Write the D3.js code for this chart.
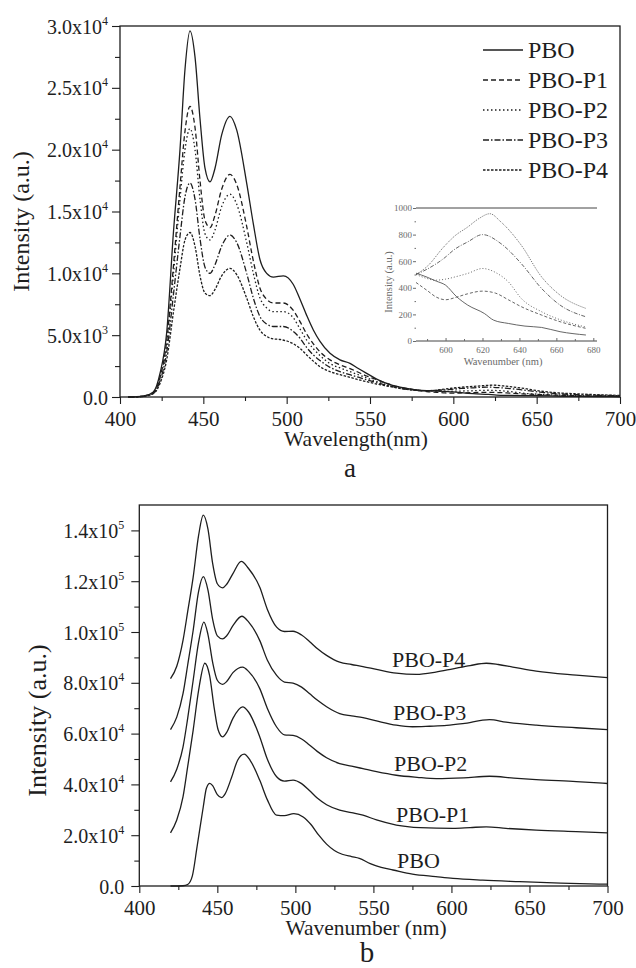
<!DOCTYPE html>
<html>
<head>
<meta charset="utf-8">
<script src="https://cdn.jsdelivr.net/npm/d3@7"></script>
<style>
  body { margin: 0; background: #fff; }
  svg { display: block; }
  svg text { font-family: "Liberation Serif", "Tinos", "Times New Roman", Times, "Noto Serif", "DejaVu Serif", serif; }
</style>
</head>
<body>
<script>
// ---- data ----
// panel a: emission spectra [wavelength nm, intensity]
const aPBO = [[405,0],[410,20],[415,100],[420,400],[424,1900],[428,5200],[432,13200],[436,20000],[439,26500],[442,29600],[445,27500],[448,22500],[451,18500],[454,17400],[457,18500],[461,21200],[466,22700],[470,21600],[476,17300],[480,14000],[484,11100],[488,10000],[492,9700],[498,9800],[504,9100],[508,7900],[512,6600],[516,5420],[520,4500],[526,3530],[532,3000],[538,2720],[543,2300],[548,1910],[554,1450],[560,1100],[566,850],[572,700],[578,580],[584,510],[590,480],[595,450],[600,420],[606,333],[612,270],[621,207],[626,157],[634,132],[643,112],[652,102],[662,70],[676,45],[690,30],[700,20]];
const aP1 = [[405,0],[410,20],[415,100],[420,350],[424,1600],[428,4500],[432,10500],[436,17000],[439,21500],[442,23500],[445,21800],[448,17500],[451,14300],[454,13700],[457,14700],[461,16800],[466,18000],[470,17200],[476,13800],[480,11000],[484,8800],[488,7900],[492,7600],[498,7600],[504,7000],[508,6100],[512,5100],[516,4300],[520,3650],[526,3000],[532,2600],[538,2300],[543,2000],[548,1700],[554,1400],[560,1100],[566,850],[572,700],[578,550],[584,440],[590,380],[595,330],[600,310],[606,330],[612,355],[620,375],[627,360],[634,310],[641,258],[652,195],[662,145],[676,95],[690,70],[700,50]];
const aP2 = [[405,0],[410,20],[415,90],[420,330],[424,1500],[428,4200],[432,9800],[436,16000],[439,20000],[442,21700],[445,20000],[448,16000],[451,13200],[454,12700],[457,13500],[461,15400],[466,16400],[470,15600],[476,12500],[480,10000],[484,8000],[488,7200],[492,6900],[498,6900],[504,6400],[508,5500],[512,4600],[516,3900],[520,3350],[526,2700],[532,2350],[538,2050],[543,1800],[548,1550],[554,1250],[560,1000],[566,800],[572,650],[578,560],[584,500],[590,470],[594,457],[600,465],[606,485],[612,508],[620,545],[628,508],[634,445],[641,320],[652,220],[662,160],[676,105],[690,75],[700,55]];
const aP3 = [[405,0],[410,15],[415,80],[420,300],[424,1300],[428,3600],[432,8200],[436,13000],[439,16200],[442,17300],[445,16000],[448,12800],[451,10500],[454,10000],[457,10700],[461,12200],[466,13100],[470,12500],[476,10000],[480,8000],[484,6500],[488,5900],[492,5700],[498,5700],[504,5300],[508,4750],[512,4000],[516,3400],[520,2950],[526,2400],[532,2050],[538,1800],[543,1600],[548,1400],[554,1150],[560,950],[566,760],[572,620],[578,540],[584,500],[590,540],[599,620],[605,690],[612,745],[620,800],[630,732],[641,582],[652,395],[662,270],[676,182],[690,130],[700,100]];
const aP4 = [[405,0],[410,15],[415,70],[420,260],[424,1100],[428,3000],[432,6800],[436,10400],[439,12700],[442,13300],[445,12200],[448,9800],[451,8400],[454,8200],[457,8700],[461,9800],[466,10400],[470,9900],[476,8000],[480,6500],[484,5400],[488,4900],[492,4700],[496,4650],[504,4300],[508,3940],[512,3400],[516,2900],[520,2450],[526,2050],[532,1800],[538,1590],[543,1400],[548,1240],[554,1050],[560,890],[566,740],[572,620],[578,540],[584,500],[590,560],[599,707],[605,790],[612,857],[618,920],[624,957],[630,895],[641,720],[652,482],[662,345],[676,245],[690,170],[700,130]];

// panel b: offset spectra
const bPBO = [[420,0],[428,100],[431,600],[434,4000],[437,15400],[441,31200],[443,38500],[445.2,40400],[447,39500],[450,36000],[452.7,34800],[455,36300],[459,42500],[463,49500],[467.2,51900],[471,49500],[477.2,41600],[482,34000],[487.9,27900],[493,27700],[499,28500],[505,27200],[510,24200],[515,20000],[520,16500],[525,14000],[530,12500],[536,11600],[541,10900],[548,8800],[555,7300],[562.6,6300],[575,4700],[590,3700],[601,3000],[620,2300],[643.6,1700],[670,1100],[700,700]];
const bP1 = [[420,20950],[424,26000],[428,35100],[431,47000],[434.5,61300],[438,77000],[442,87700],[445,83000],[448,70000],[450.5,61500],[453.4,58700],[456,60500],[460,66000],[466.2,70500],[470,68500],[477.2,58700],[482,50000],[488,43000],[493,41300],[498.5,41700],[504,40300],[509,37600],[514,34600],[520,32000],[528.4,29900],[536,28900],[543.3,27900],[552,26000],[564.7,24000],[580,23000],[601,22700],[612,23000],[622.3,23300],[635,22700],[654.3,22000],[680,21400],[700,20950]];
const bP2 = [[420,41000],[424,46000],[428,54700],[431,66000],[434.5,80900],[438,96000],[441.4,103900],[444,99000],[447,88000],[450,81000],[453.4,79400],[456,80500],[460,84000],[466.2,86200],[470,84500],[477.2,77700],[482,70000],[488,62600],[493,59500],[498.5,59300],[504,57900],[509,55500],[514,53000],[520,50500],[528.4,48200],[536,47200],[543.3,46200],[552,45000],[564.7,43600],[578,42800],[590.3,42300],[608,42600],[624.4,43200],[640,42500],[654.3,41900],[680,41100],[700,40350]];
const bP3 = [[420,61600],[424,66500],[428,75700],[431,87000],[434.5,100600],[438,116000],[441,121800],[444,116500],[447,105000],[450,98500],[453.4,97300],[456,98500],[460,102500],[465.7,106200],[470,104000],[477.2,96600],[482,89000],[488,82900],[493,80300],[498.5,79900],[504,78300],[509,75800],[514,73200],[520,70600],[528.4,67900],[536,67000],[543.3,66300],[552,65000],[564.7,63300],[575,62700],[586,62900],[597,63200],[607.3,63900],[624.4,65500],[635,64500],[654.3,63300],[680,62300],[700,61600]];
const bP4 = [[420,81600],[424,86500],[428,96700],[431,108000],[434.5,121500],[438,138000],[441,146000],[444,140500],[447,127000],[450,119000],[453.4,117400],[456,118800],[460,123000],[465.3,127800],[470,125000],[477.2,117600],[482,109000],[488,101900],[493,100200],[498.5,100300],[504,98800],[509,96300],[514,93500],[520,90800],[528.4,88100],[536,87200],[543.3,86400],[552,85300],[564.7,83800],[577.5,83300],[590,84200],[601,85500],[612,86800],[622.3,87700],[630,87200],[639.3,86200],[654.3,84600],[680,83000],[700,82000]];

const names = ["PBO", "PBO-P1", "PBO-P2", "PBO-P3", "PBO-P4"];
const dashes = ["none", "5,3", "1.5,2.5", "6,2,1.5,2", "2.5,1.5"];
const insetDashes = ["none", "3,2", "1,2", "4,1.5,1,1.5", "1,1.2"];
const xTicks = [400, 450, 500, 550, 600, 650, 700];
const aYTicks = [0, 5000, 10000, 15000, 20000, 25000, 30000];
const bYTicks = [0, 20000, 40000, 60000, 80000, 100000, 120000, 140000];
const insetXTicks = [600, 620, 640, 660, 680];
const insetYTicks = [0, 200, 400, 600, 800, 1000];

const serif = "Liberation Serif, Tinos, Times New Roman, Times, Noto Serif, DejaVu Serif, serif";
const ink = "#1e1e1e";

const svg = d3.select("body").append("svg")
  .attr("width", 636).attr("height", 968)
  .attr("font-family", serif);

// write 3.0x10^4 style labels
function sciLabel(sel, supSize) {
  sel.each(function (v) {
    const t = d3.select(this).text(null);
    if (v == 0) { t.text("0.0"); return; }
    const e = Math.floor(Math.log10(v));
    const m = (v / Math.pow(10, e)).toFixed(1);
    t.append("tspan").text(m + "x10");
    t.append("tspan").attr("font-size", supSize).attr("dy", "-0.75em").text(e);
  });
}

function panel(o) {
  const g = svg.append("g");
  const x = d3.scaleLinear().domain([400, 700]).range([o.left, o.right]);
  const y = d3.scaleLinear().domain([0, o.ymax]).range([o.bottom, o.top]);

  // minor ticks
  g.append("g").attr("transform", `translate(0,${o.bottom})`)
    .call(d3.axisBottom(x).tickValues(d3.range(425, 700, 50)).tickSize(4).tickFormat(""))
    .call(a => a.select(".domain").remove());
  g.append("g").attr("transform", `translate(${o.left},0)`)
    .call(d3.axisLeft(y).tickValues(d3.range(o.minor, o.ymax, o.minor * 2)).tickSize(5).tickFormat(""))
    .call(a => a.select(".domain").remove());

  const xa = g.append("g").attr("transform", `translate(0,${o.bottom})`)
    .call(d3.axisBottom(x).tickValues(xTicks).tickSize(7));
  xa.select(".domain").remove();
  xa.selectAll("text").attr("y", 29).attr("dy", 0)
    .attr("font-size", 21).attr("font-family", serif).attr("fill", ink);

  const ya = g.append("g").attr("transform", `translate(${o.left},0)`)
    .call(d3.axisLeft(y).tickValues(o.yTicks).tickSize(8));
  ya.select(".domain").remove();
  ya.selectAll("text").attr("x", -o.labelGap).attr("dy", 7)
    .attr("font-size", 20).attr("font-family", serif).attr("fill", ink)
    .call(sciLabel, 12);
  g.selectAll("g").attr("font-family", serif);
  g.selectAll(".tick line").attr("stroke", ink).attr("stroke-width", 1.1);

  g.append("rect")
    .attr("x", o.left).attr("y", o.top)
    .attr("width", o.right - o.left).attr("height", o.bottom - o.top)
    .attr("fill", "none").attr("stroke", ink).attr("stroke-width", 1.3);

  g.append("text")
    .attr("transform", `translate(${o.yLabelX},${(o.top + o.bottom) / 2 + o.yLabelShift}) rotate(-90)`)
    .attr("text-anchor", "middle").attr("font-size", o.yLabelSize).attr("fill", ink)
    .text("Intensity (a.u.)");
  g.append("text")
    .attr("x", o.xLabelX).attr("y", o.bottom + 49)
    .attr("text-anchor", "middle").attr("font-size", 21.5).attr("fill", ink)
    .text(o.xLabel);
  g.append("text")
    .attr("x", o.tagX).attr("y", o.tagY)
    .attr("text-anchor", "middle").attr("font-size", o.tagSize).attr("fill", ink)
    .text(o.tag);

  const line = d3.line().x(d => x(d[0])).y(d => y(d[1])).curve(d3.curveMonotoneX);
  o.series.forEach((s, i) => {
    g.append("path").datum(s)
      .attr("d", line)
      .attr("fill", "none").attr("stroke", ink).attr("stroke-width", 1.3)
      .attr("stroke-dasharray", o.dashed ? dashes[i] : "none");
  });
  return { g, x, y };
}

// ---- panel a ----
const A = panel({
  left: 120, right: 620, top: 26, bottom: 397, ymax: 30000, minor: 2500,
  yTicks: aYTicks, labelGap: 12, series: [aPBO, aP1, aP2, aP3, aP4], dashed: true,
  yLabelX: 29, yLabelShift: 10, yLabelSize: 24,
  xLabel: "Wavelength(nm)", xLabelX: 356, tag: "a", tagX: 350, tagY: 477, tagSize: 27
});

// legend
const legendY = [50, 80, 110, 140, 170];
names.forEach((n, i) => {
  A.g.append("line").attr("x1", 483).attr("x2", 523)
    .attr("y1", legendY[i]).attr("y2", legendY[i])
    .attr("stroke", ink).attr("stroke-width", 1.3).attr("stroke-dasharray", dashes[i]);
  A.g.append("text").attr("x", 528).attr("y", legendY[i] + 8)
    .attr("font-size", 24).attr("fill", ink).text(n);
});

// inset: zoom of 584-677 nm
const grey = "#6a6a6a";
const ix = d3.scaleLinear().domain([584, 682]).range([416, 597]);
const iy = d3.scaleLinear().domain([0, 1000]).range([341, 208]);
const ins = svg.append("g");
ins.append("line").attr("x1", 416).attr("x2", 597).attr("y1", iy(1000)).attr("y2", iy(1000))
  .attr("stroke", "#444").attr("stroke-width", 1);
const ixa = ins.append("g").attr("transform", `translate(0,${iy(0)})`)
  .call(d3.axisBottom(ix).tickValues(insetXTicks).tickSize(-3).tickPadding(6).tickSizeOuter(0));
ixa.select(".domain").attr("stroke", "#444").attr("d", `M416,0H597`);
ins.append("g").attr("transform", `translate(0,${iy(0)})`)
  .call(d3.axisBottom(ix).tickValues(d3.range(590, 680, 20)).tickSize(-2).tickFormat(""))
  .call(a => a.select(".domain").remove());
const iya = ins.append("g").attr("transform", "translate(416,0)")
  .call(d3.axisLeft(iy).tickValues(insetYTicks).tickFormat(d3.format("d")).tickSize(3).tickPadding(1));
iya.select(".domain").remove();
ins.append("g").attr("transform", "translate(416,0)")
  .call(d3.axisLeft(iy).tickValues(d3.range(100, 1000, 200)).tickSize(1.5).tickFormat(""))
  .call(a => a.select(".domain").remove());
ins.selectAll("g").attr("font-family", serif);
ins.selectAll(".tick line").attr("stroke", grey);
ins.selectAll(".tick text").attr("font-size", 9).attr("fill", grey);
ins.append("text").attr("transform", "translate(392,282) rotate(-90)")
  .attr("text-anchor", "middle").attr("font-size", 10.5).attr("fill", grey).text("Intensity (a.u.)");
ins.append("text").attr("x", 503).attr("y", 365)
  .attr("text-anchor", "middle").attr("font-size", 10.5).attr("fill", grey).text("Wavenumber (nm)");
const iline = d3.line().x(d => ix(d[0])).y(d => iy(d[1])).curve(d3.curveMonotoneX);
[aPBO, aP1, aP2, aP3, aP4].forEach((s, i) => {
  ins.append("path").datum(s.filter(d => d[0] >= 584 && d[0] <= 677))
    .attr("d", iline).attr("fill", "none")
    .attr("stroke", "#555").attr("stroke-width", 0.9)
    .attr("stroke-dasharray", insetDashes[i]);
});

// ---- panel b ----
const B = panel({
  left: 139.3, right: 607.5, top: 505, bottom: 886, ymax: 150000, minor: 10000,
  yTicks: bYTicks, labelGap: 15, series: [bPBO, bP1, bP2, bP3, bP4], dashed: false,
  yLabelX: 46, yLabelShift: 25, yLabelSize: 26,
  xLabel: "Wavenumber (nm)", xLabelX: 366, tag: "b", tagX: 367, tagY: 962, tagSize: 29
});
const bLabelY = [868, 822, 771, 720, 667];
const bLabelX = [397, 396, 394, 393, 392];
names.forEach((n, i) => {
  B.g.append("text").attr("x", bLabelX[i]).attr("y", bLabelY[i])
    .attr("font-size", 22).attr("fill", ink).text(n);
});
</script>
</body>
</html>
